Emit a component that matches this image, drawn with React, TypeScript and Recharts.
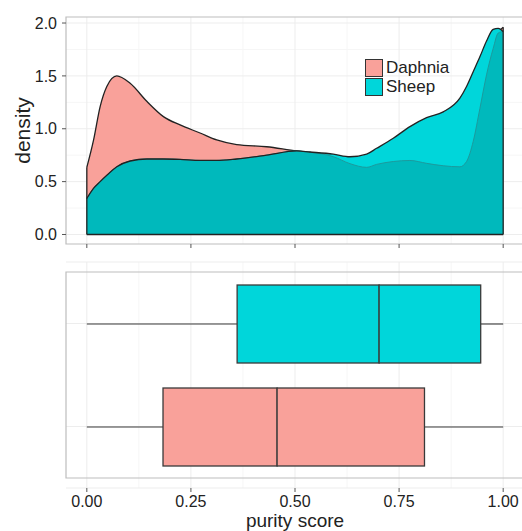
import React from "react";
import {
  ComposedChart,
  BarChart,
  Area,
  Line,
  Bar,
  Cell,
  XAxis,
  YAxis,
  CartesianGrid,
  ReferenceLine,
  ReferenceArea,
} from "recharts";

// purity score grid + densities
const xs = [
  0, 0.016, 0.032, 0.048, 0.072, 0.104, 0.144, 0.184, 0.224, 0.272, 0.312,
  0.36, 0.432, 0.504, 0.536, 0.592, 0.632, 0.672, 0.696, 0.736, 0.776, 0.816,
  0.856, 0.896, 0.912, 0.928, 0.944, 0.96, 0.976, 0.988, 1.0,
];
const daphnia = [
  0.635, 0.89, 1.21, 1.4, 1.5, 1.43, 1.26, 1.115, 1.036, 0.96, 0.894, 0.85,
  0.83, 0.79, 0.777, 0.736, 0.67, 0.635, 0.663, 0.69, 0.7, 0.673, 0.65, 0.64,
  0.69, 0.88, 1.19, 1.51, 1.76, 1.905, 1.96,
];
const sheep = [
  0.34, 0.436, 0.5, 0.56, 0.64, 0.695, 0.714, 0.714, 0.71, 0.7, 0.7, 0.714,
  0.75, 0.79, 0.78, 0.76, 0.735, 0.76, 0.815, 0.91, 1.02, 1.105, 1.16, 1.29,
  1.4, 1.54, 1.68, 1.83, 1.94, 1.95, 1.92,
];

// boxplot five-number summaries (top row first)
const groups = ["Sheep", "Daphnia"];
const wLow = [0, 0];
const q1 = [0.361, 0.183];
const med = [0.702, 0.457];
const q3 = [0.946, 0.811];
const wHigh = [1, 1];

const xTicks = [0, 0.25, 0.5, 0.75, 1];
const xMinor = [0.125, 0.375, 0.625, 0.875];
const yTicks = [0, 0.5, 1, 1.5, 2];
const yMinor = [0.25, 0.75, 1.25, 1.75];

const DAPH = "#F9A19A";
const SHEEP = "#00D6DA";
const OVERLAP = "#00B9BC";
const INK = "#222";
const BORDER = "#BDBDBD";
const FONT = "'Liberation Sans', Arial, sans-serif";

const X_DOMAIN: [number, number] = [-0.05, 1.05];
const Y_DOMAIN: [number, number] = [-0.09, 2.057];

const densityRows = xs.map((x, i) => ({
  x,
  daphnia: daphnia[i],
  sheep: sheep[i],
  overlap: Math.min(daphnia[i], sheep[i]),
}));

const boxRows = groups.map((g, i) => ({
  group: g,
  base: wLow[i],
  lowWhisker: q1[i] - wLow[i],
  lowBox: med[i] - q1[i],
  highBox: q3[i] - med[i],
  highWhisker: wHigh[i] - q3[i],
}));
const boxColors = [SHEEP, DAPH];

const legendItems = [
  { name: "Daphnia", color: DAPH },
  { name: "Sheep", color: SHEEP },
];

function LegendBox() {
  return (
    <div
      style={{
        position: "absolute",
        left: 365,
        top: 58,
        fontFamily: FONT,
        fontSize: 17,
        color: INK,
        lineHeight: "18px",
      }}
    >
      {legendItems.map((it) => (
        <div
          key={it.name}
          style={{ display: "flex", alignItems: "center", height: 19 }}
        >
          <div
            style={{
              width: 16,
              height: 16,
              background: it.color,
              border: "1px solid #333",
              marginRight: 3,
            }}
          />
          <span>{it.name}</span>
        </div>
      ))}
    </div>
  );
}

function Whisker(props: any) {
  const { x, y, width, height } = props;
  const cy = y + height / 2;
  return <line x1={x} x2={x + width} y1={cy} y2={cy} stroke="#3a3a3a" strokeWidth={1.1} />;
}

function BoxPart(props: any) {
  const { x, y, width, height, fill } = props;
  return (
    <rect x={x} y={y} width={width} height={height} fill={fill} stroke="#3a3a3a" strokeWidth={1.3} />
  );
}

const tickStyle = { fill: INK, fontSize: 16, fontFamily: FONT };

export default function App() {
  return (
    <div
      style={{
        position: "fixed",
        left: 0,
        top: 0,
        width: 522,
        height: 531,
        overflow: "hidden",
        background: "white",
      }}
    >
      <div style={{ position: "absolute", left: 0, top: 0 }}>
        <ComposedChart
          width={540}
          height={260}
          data={densityRows}
          margin={{ top: 17, right: 16, left: 0, bottom: 0 }}
        >
          <CartesianGrid
            stroke="#F6F6F6"
            verticalValues={xMinor}
            horizontalValues={yMinor}
          />
          <CartesianGrid
            stroke="#EDEDED"
            verticalValues={xTicks}
            horizontalValues={yTicks}
          />
          <XAxis
            dataKey="x"
            type="number"
            domain={X_DOMAIN}
            ticks={xTicks}
            allowDataOverflow
            axisLine={false}
            tickSize={4}
            tickLine={{ stroke: "#555" }}
            tickFormatter={() => ""}
            height={16}
          />
          <YAxis
            type="number"
            domain={Y_DOMAIN}
            ticks={yTicks}
            allowDataOverflow
            width={66}
            axisLine={false}
            tickSize={4}
            tickMargin={5}
            tickLine={{ stroke: "#555" }}
            tick={tickStyle}
            tickFormatter={(v: number) => v.toFixed(1)}
            label={(p: any) => {
              const vb = p.viewBox || {};
              const cx = 22;
              const cy = (vb.y ?? 17) + (vb.height ?? 227) / 2;
              return (
                <text
                  x={cx}
                  y={cy}
                  transform={`rotate(-90 ${cx} ${cy})`}
                  textAnchor="middle"
                  dominantBaseline="central"
                  fontSize={21}
                  fontFamily={FONT}
                  fill={INK}
                >
                  density
                </text>
              );
            }}
          />
          <Area
            type="monotone"
            dataKey="daphnia"
            fill={DAPH}
            fillOpacity={1}
            stroke={INK}
            strokeWidth={1.3}
            isAnimationActive={false}
          />
          <Area
            type="monotone"
            dataKey="sheep"
            fill={SHEEP}
            fillOpacity={1}
            stroke="none"
            isAnimationActive={false}
          />
          <Area
            type="monotone"
            dataKey="overlap"
            fill={OVERLAP}
            fillOpacity={1}
            stroke="#1c9a9d"
            strokeWidth={1}
            isAnimationActive={false}
          />
          <Line
            type="monotone"
            dataKey="sheep"
            stroke={INK}
            strokeWidth={1.3}
            dot={false}
            isAnimationActive={false}
          />
          <ReferenceLine
            segment={[
              { x: xs[0], y: 0 },
              { x: xs[0], y: daphnia[0] },
            ]}
            stroke={INK}
            strokeWidth={1.3}
          />
          <ReferenceLine
            segment={[
              { x: xs[xs.length - 1], y: 0 },
              { x: xs[xs.length - 1], y: daphnia[daphnia.length - 1] },
            ]}
            stroke={INK}
            strokeWidth={1.3}
          />
          <ReferenceLine
            segment={[
              { x: xs[0], y: 0 },
              { x: xs[xs.length - 1], y: 0 },
            ]}
            stroke={INK}
            strokeWidth={1.3}
          />
          <ReferenceArea
            x1={X_DOMAIN[0]}
            x2={X_DOMAIN[1]}
            y1={Y_DOMAIN[0]}
            y2={Y_DOMAIN[1]}
            fill="none"
            stroke={BORDER}
            strokeWidth={1.2}
          />
        </ComposedChart>
        <LegendBox />
      </div>

      <div style={{ position: "absolute", left: 0, top: 250 }}>
        <BarChart
          layout="vertical"
          width={540}
          height={281}
          data={boxRows}
          margin={{ top: 12, right: 16, left: 66, bottom: 0 }}
        >
          <CartesianGrid stroke="#F6F6F6" verticalValues={xMinor} horizontal={false} />
          <CartesianGrid stroke="#EDEDED" verticalValues={xTicks} />
          <XAxis
            type="number"
            domain={X_DOMAIN}
            ticks={xTicks}
            allowDataOverflow
            axisLine={false}
            tickSize={4}
            tickMargin={4}
            tickLine={{ stroke: "#555" }}
            tick={tickStyle}
            tickFormatter={(v: number) => v.toFixed(2)}
            height={43}
            label={(p: any) => {
              const vb = p.viewBox || {};
              const cx = (vb.x ?? 66) + (vb.width ?? 458) / 2;
              return (
                <text
                  x={cx}
                  y={277}
                  textAnchor="middle"
                  fontSize={19}
                  fontFamily={FONT}
                  fill={INK}
                >
                  purity score
                </text>
              );
            }}
          />
          <YAxis
            type="category"
            dataKey="group"
            hide
            padding={{ top: 10, bottom: 10 }}
          />
          <Bar dataKey="base" stackId="b" fill="none" barSize={78} isAnimationActive={false} />
          <Bar dataKey="lowWhisker" stackId="b" barSize={78} shape={<Whisker />} isAnimationActive={false} />
          <Bar dataKey="lowBox" stackId="b" barSize={78} shape={<BoxPart />} isAnimationActive={false}>
            {boxRows.map((r, i) => (
              <Cell key={r.group} fill={boxColors[i]} />
            ))}
          </Bar>
          <Bar dataKey="highBox" stackId="b" barSize={78} shape={<BoxPart />} isAnimationActive={false}>
            {boxRows.map((r, i) => (
              <Cell key={r.group} fill={boxColors[i]} />
            ))}
          </Bar>
          <Bar dataKey="highWhisker" stackId="b" barSize={78} shape={<Whisker />} isAnimationActive={false} />
          <ReferenceArea
            x1={X_DOMAIN[0]}
            x2={X_DOMAIN[1]}
            fill="none"
            stroke={BORDER}
            strokeWidth={1.2}
          />
        </BarChart>
      </div>
    </div>
  );
}
